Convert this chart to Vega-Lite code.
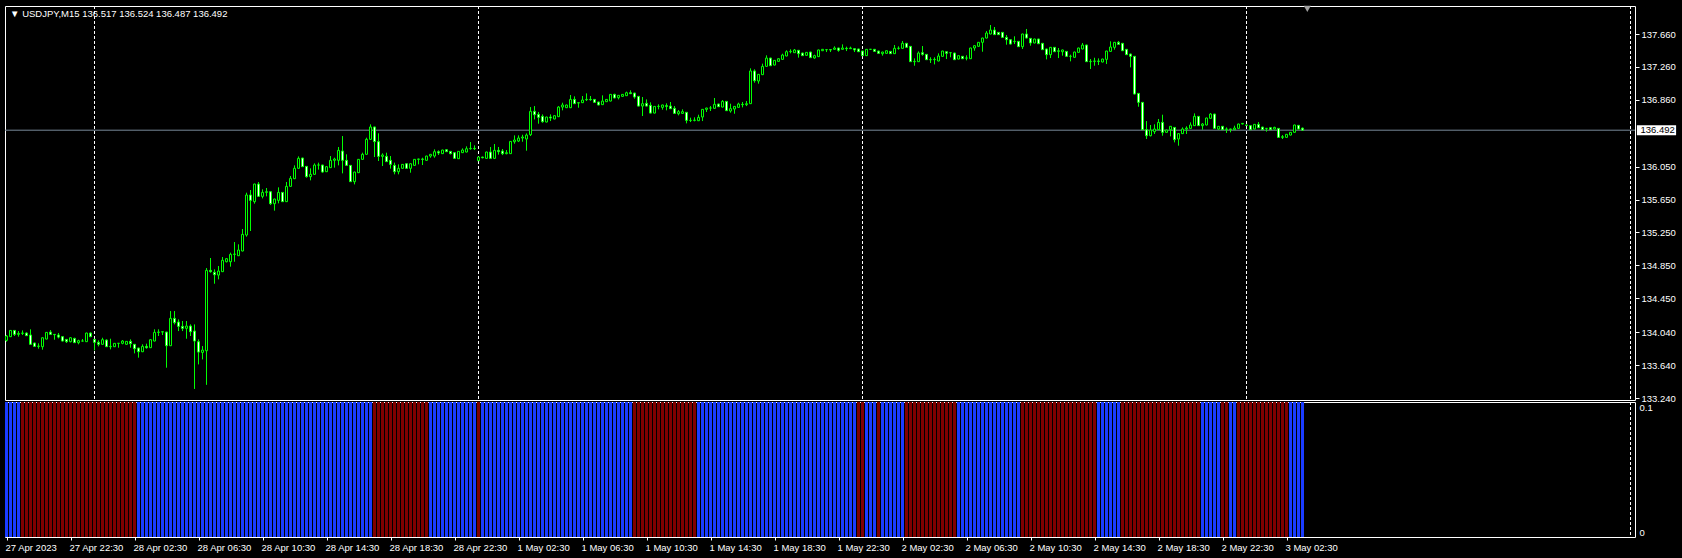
{
"$schema":"https://vega.github.io/schema/vega-lite/v6.json",
"background":"black",
"padding":{"left":4,"top":5,"right":7,"bottom":6},
"spacing":2,
"bounds":"flush",
"resolve":{"scale":{"x":"independent","y":"independent"}},
"config":{"view":{"stroke":"white","strokeWidth":1,"fill":"black"},"scale":{"continuousPadding":0},"axis":{"labelFont":"Liberation Sans","labelFontSize":9.5,"labelColor":"white","tickColor":"white","domain":false,"grid":false,"labelOverlap":false,"labelBound":false}},
"datasets":{
"grid":[{"i":22},{"i":118},{"i":214},{"i":310},{"i":406}],
"last":[{"i":324,"p":136.492}],
"bars":[
{"i":0,"o":133.940,"h":134.005,"l":133.924,"c":133.993,"s":"up","v":0.1},
{"i":1,"o":133.985,"h":134.065,"l":133.980,"c":134.061,"s":"up","v":0.1},
{"i":2,"o":134.061,"h":134.065,"l":133.993,"c":134.013,"s":"up","v":0.1},
{"i":3,"o":134.013,"h":134.053,"l":133.985,"c":134.025,"s":"up","v":0.1},
{"i":4,"o":134.025,"h":134.061,"l":134.005,"c":134.029,"s":"dn","v":0.1},
{"i":5,"o":134.029,"h":134.037,"l":133.993,"c":133.997,"s":"dn","v":0.1},
{"i":6,"o":134.005,"h":134.074,"l":133.888,"c":133.892,"s":"dn","v":0.1},
{"i":7,"o":133.908,"h":133.912,"l":133.863,"c":133.867,"s":"dn","v":0.1},
{"i":8,"o":133.867,"h":133.904,"l":133.839,"c":133.871,"s":"dn","v":0.1},
{"i":9,"o":133.863,"h":133.976,"l":133.827,"c":133.972,"s":"dn","v":0.1},
{"i":10,"o":133.956,"h":134.041,"l":133.952,"c":134.037,"s":"dn","v":0.1},
{"i":11,"o":134.041,"h":134.065,"l":134.009,"c":134.013,"s":"dn","v":0.1},
{"i":12,"o":134.013,"h":134.017,"l":133.948,"c":134.009,"s":"dn","v":0.1},
{"i":13,"o":134.005,"h":134.029,"l":133.964,"c":133.980,"s":"dn","v":0.1},
{"i":14,"o":133.985,"h":133.989,"l":133.928,"c":133.932,"s":"dn","v":0.1},
{"i":15,"o":133.952,"h":133.956,"l":133.908,"c":133.924,"s":"dn","v":0.1},
{"i":16,"o":133.924,"h":133.980,"l":133.916,"c":133.972,"s":"dn","v":0.1},
{"i":17,"o":133.964,"h":133.972,"l":133.908,"c":133.912,"s":"dn","v":0.1},
{"i":18,"o":133.912,"h":133.948,"l":133.892,"c":133.936,"s":"dn","v":0.1},
{"i":19,"o":133.932,"h":133.956,"l":133.928,"c":133.932,"s":"dn","v":0.1},
{"i":20,"o":133.924,"h":134.033,"l":133.920,"c":134.029,"s":"dn","v":0.1},
{"i":21,"o":134.029,"h":134.037,"l":133.980,"c":133.985,"s":"dn","v":0.1},
{"i":22,"o":133.952,"h":133.956,"l":133.819,"c":133.916,"s":"dn","v":0.1},
{"i":23,"o":133.916,"h":133.940,"l":133.867,"c":133.892,"s":"dn","v":0.1},
{"i":24,"o":133.892,"h":133.972,"l":133.888,"c":133.948,"s":"dn","v":0.1},
{"i":25,"o":133.944,"h":133.952,"l":133.859,"c":133.863,"s":"dn","v":0.1},
{"i":26,"o":133.863,"h":133.960,"l":133.831,"c":133.867,"s":"dn","v":0.1},
{"i":27,"o":133.863,"h":133.908,"l":133.859,"c":133.904,"s":"dn","v":0.1},
{"i":28,"o":133.904,"h":133.908,"l":133.851,"c":133.904,"s":"dn","v":0.1},
{"i":29,"o":133.904,"h":133.944,"l":133.892,"c":133.932,"s":"dn","v":0.1},
{"i":30,"o":133.892,"h":133.932,"l":133.888,"c":133.928,"s":"dn","v":0.1},
{"i":31,"o":133.928,"h":133.952,"l":133.851,"c":133.900,"s":"dn","v":0.1},
{"i":32,"o":133.892,"h":133.896,"l":133.782,"c":133.839,"s":"dn","v":0.1},
{"i":33,"o":133.847,"h":133.851,"l":133.730,"c":133.802,"s":"up","v":0.1},
{"i":34,"o":133.802,"h":133.892,"l":133.798,"c":133.867,"s":"up","v":0.1},
{"i":35,"o":133.867,"h":133.900,"l":133.839,"c":133.851,"s":"up","v":0.1},
{"i":36,"o":133.851,"h":133.952,"l":133.847,"c":133.948,"s":"up","v":0.1},
{"i":37,"o":133.932,"h":134.074,"l":133.928,"c":134.037,"s":"up","v":0.1},
{"i":38,"o":134.037,"h":134.074,"l":133.993,"c":134.041,"s":"up","v":0.1},
{"i":39,"o":134.041,"h":134.049,"l":134.005,"c":134.045,"s":"up","v":0.1},
{"i":40,"o":134.041,"h":134.045,"l":133.608,"c":133.875,"s":"up","v":0.1},
{"i":41,"o":133.875,"h":134.296,"l":133.871,"c":134.207,"s":"up","v":0.1},
{"i":42,"o":134.207,"h":134.296,"l":134.134,"c":134.155,"s":"up","v":0.1},
{"i":43,"o":134.163,"h":134.195,"l":134.053,"c":134.110,"s":"up","v":0.1},
{"i":44,"o":134.110,"h":134.175,"l":134.053,"c":134.086,"s":"up","v":0.1},
{"i":45,"o":134.086,"h":134.175,"l":133.960,"c":134.114,"s":"up","v":0.1},
{"i":46,"o":134.114,"h":134.134,"l":133.993,"c":134.045,"s":"up","v":0.1},
{"i":47,"o":134.053,"h":134.134,"l":133.350,"c":133.932,"s":"up","v":0.1},
{"i":48,"o":133.924,"h":133.952,"l":133.648,"c":133.798,"s":"up","v":0.1},
{"i":49,"o":133.794,"h":133.871,"l":133.709,"c":133.822,"s":"up","v":0.1},
{"i":50,"o":133.814,"h":134.818,"l":133.400,"c":134.790,"s":"up","v":0.1},
{"i":51,"o":134.790,"h":134.940,"l":134.762,"c":134.774,"s":"up","v":0.1},
{"i":52,"o":134.766,"h":134.802,"l":134.628,"c":134.737,"s":"up","v":0.1},
{"i":53,"o":134.733,"h":134.843,"l":134.681,"c":134.782,"s":"up","v":0.1},
{"i":54,"o":134.774,"h":134.952,"l":134.770,"c":134.912,"s":"up","v":0.1},
{"i":55,"o":134.895,"h":134.940,"l":134.887,"c":134.932,"s":"up","v":0.1},
{"i":56,"o":134.895,"h":135.005,"l":134.835,"c":134.984,"s":"up","v":0.1},
{"i":57,"o":134.984,"h":135.134,"l":134.895,"c":134.988,"s":"up","v":0.1},
{"i":58,"o":134.968,"h":135.106,"l":134.964,"c":135.037,"s":"up","v":0.1},
{"i":59,"o":135.025,"h":135.292,"l":135.021,"c":135.227,"s":"up","v":0.1},
{"i":60,"o":135.219,"h":135.733,"l":135.199,"c":135.705,"s":"up","v":0.1},
{"i":61,"o":135.705,"h":135.766,"l":135.268,"c":135.640,"s":"up","v":0.1},
{"i":62,"o":135.624,"h":135.842,"l":135.600,"c":135.838,"s":"up","v":0.1},
{"i":63,"o":135.838,"h":135.863,"l":135.685,"c":135.689,"s":"up","v":0.1},
{"i":64,"o":135.689,"h":135.774,"l":135.664,"c":135.737,"s":"up","v":0.1},
{"i":65,"o":135.737,"h":135.790,"l":135.689,"c":135.745,"s":"up","v":0.1},
{"i":66,"o":135.745,"h":135.749,"l":135.583,"c":135.600,"s":"up","v":0.1},
{"i":67,"o":135.600,"h":135.660,"l":135.515,"c":135.656,"s":"up","v":0.1},
{"i":68,"o":135.640,"h":135.798,"l":135.604,"c":135.737,"s":"up","v":0.1},
{"i":69,"o":135.737,"h":135.741,"l":135.620,"c":135.624,"s":"up","v":0.1},
{"i":70,"o":135.624,"h":135.863,"l":135.620,"c":135.810,"s":"up","v":0.1},
{"i":71,"o":135.810,"h":135.936,"l":135.806,"c":135.907,"s":"up","v":0.1},
{"i":72,"o":135.903,"h":136.065,"l":135.899,"c":136.029,"s":"up","v":0.1},
{"i":73,"o":136.029,"h":136.174,"l":136.025,"c":136.150,"s":"up","v":0.1},
{"i":74,"o":136.154,"h":136.158,"l":136.045,"c":136.049,"s":"up","v":0.1},
{"i":75,"o":136.053,"h":136.057,"l":135.915,"c":135.928,"s":"up","v":0.1},
{"i":76,"o":135.928,"h":136.029,"l":135.883,"c":135.956,"s":"up","v":0.1},
{"i":77,"o":135.956,"h":136.089,"l":135.952,"c":136.069,"s":"up","v":0.1},
{"i":78,"o":136.069,"h":136.098,"l":136.013,"c":136.069,"s":"up","v":0.1},
{"i":79,"o":136.069,"h":136.073,"l":135.976,"c":135.984,"s":"up","v":0.1},
{"i":80,"o":135.988,"h":136.053,"l":135.984,"c":136.049,"s":"up","v":0.1},
{"i":81,"o":136.037,"h":136.178,"l":136.033,"c":136.126,"s":"up","v":0.1},
{"i":82,"o":136.126,"h":136.158,"l":136.037,"c":136.142,"s":"up","v":0.1},
{"i":83,"o":136.126,"h":136.288,"l":136.065,"c":136.247,"s":"up","v":0.1},
{"i":84,"o":136.239,"h":136.421,"l":135.968,"c":136.126,"s":"up","v":0.1},
{"i":85,"o":136.126,"h":136.199,"l":136.057,"c":136.065,"s":"up","v":0.1},
{"i":86,"o":136.065,"h":136.069,"l":135.863,"c":135.867,"s":"up","v":0.1},
{"i":87,"o":135.867,"h":135.988,"l":135.834,"c":135.984,"s":"up","v":0.1},
{"i":88,"o":135.976,"h":136.142,"l":135.972,"c":136.138,"s":"up","v":0.1},
{"i":89,"o":136.138,"h":136.219,"l":136.134,"c":136.199,"s":"up","v":0.1},
{"i":90,"o":136.199,"h":136.401,"l":136.195,"c":136.381,"s":"up","v":0.1},
{"i":91,"o":136.381,"h":136.563,"l":136.377,"c":136.531,"s":"up","v":0.1},
{"i":92,"o":136.531,"h":136.535,"l":136.166,"c":136.353,"s":"dn","v":0.1},
{"i":93,"o":136.353,"h":136.454,"l":136.118,"c":136.174,"s":"dn","v":0.1},
{"i":94,"o":136.174,"h":136.211,"l":136.057,"c":136.191,"s":"dn","v":0.1},
{"i":95,"o":136.174,"h":136.219,"l":136.106,"c":136.110,"s":"dn","v":0.1},
{"i":96,"o":136.126,"h":136.178,"l":136.025,"c":136.077,"s":"dn","v":0.1},
{"i":97,"o":136.065,"h":136.098,"l":135.956,"c":135.988,"s":"dn","v":0.1},
{"i":98,"o":135.988,"h":136.077,"l":135.956,"c":136.029,"s":"dn","v":0.1},
{"i":99,"o":136.029,"h":136.081,"l":136.025,"c":136.077,"s":"dn","v":0.1},
{"i":100,"o":136.085,"h":136.089,"l":136.025,"c":136.029,"s":"dn","v":0.1},
{"i":101,"o":136.029,"h":136.089,"l":135.976,"c":136.085,"s":"dn","v":0.1},
{"i":102,"o":136.065,"h":136.142,"l":136.061,"c":136.138,"s":"dn","v":0.1},
{"i":103,"o":136.138,"h":136.146,"l":136.077,"c":136.142,"s":"dn","v":0.1},
{"i":104,"o":136.142,"h":136.158,"l":136.069,"c":136.138,"s":"dn","v":0.1},
{"i":105,"o":136.126,"h":136.182,"l":136.122,"c":136.178,"s":"dn","v":0.1},
{"i":106,"o":136.178,"h":136.203,"l":136.158,"c":136.199,"s":"up","v":0.1},
{"i":107,"o":136.178,"h":136.259,"l":136.158,"c":136.231,"s":"up","v":0.1},
{"i":108,"o":136.231,"h":136.247,"l":136.191,"c":136.215,"s":"up","v":0.1},
{"i":109,"o":136.207,"h":136.255,"l":136.203,"c":136.251,"s":"up","v":0.1},
{"i":110,"o":136.255,"h":136.259,"l":136.227,"c":136.231,"s":"up","v":0.1},
{"i":111,"o":136.235,"h":136.239,"l":136.199,"c":136.207,"s":"up","v":0.1},
{"i":112,"o":136.219,"h":136.223,"l":136.146,"c":136.150,"s":"up","v":0.1},
{"i":113,"o":136.146,"h":136.239,"l":136.142,"c":136.235,"s":"up","v":0.1},
{"i":114,"o":136.219,"h":136.271,"l":136.215,"c":136.251,"s":"up","v":0.1},
{"i":115,"o":136.227,"h":136.296,"l":136.223,"c":136.267,"s":"up","v":0.1},
{"i":116,"o":136.267,"h":136.348,"l":136.255,"c":136.271,"s":"up","v":0.1},
{"i":117,"o":136.271,"h":136.308,"l":136.251,"c":136.267,"s":"up","v":0.1},
{"i":118,"o":136.122,"h":136.170,"l":136.118,"c":136.166,"s":"dn","v":0.1},
{"i":119,"o":136.166,"h":136.170,"l":136.150,"c":136.158,"s":"up","v":0.1},
{"i":120,"o":136.150,"h":136.231,"l":136.146,"c":136.227,"s":"up","v":0.1},
{"i":121,"o":136.227,"h":136.288,"l":136.146,"c":136.150,"s":"up","v":0.1},
{"i":122,"o":136.150,"h":136.324,"l":136.146,"c":136.247,"s":"up","v":0.1},
{"i":123,"o":136.247,"h":136.288,"l":136.195,"c":136.231,"s":"up","v":0.1},
{"i":124,"o":136.239,"h":136.263,"l":136.190,"c":136.207,"s":"up","v":0.1},
{"i":125,"o":136.207,"h":136.251,"l":136.199,"c":136.219,"s":"up","v":0.1},
{"i":126,"o":136.207,"h":136.360,"l":136.203,"c":136.356,"s":"up","v":0.1},
{"i":127,"o":136.352,"h":136.429,"l":136.328,"c":136.373,"s":"up","v":0.1},
{"i":128,"o":136.360,"h":136.429,"l":136.348,"c":136.397,"s":"up","v":0.1},
{"i":129,"o":136.397,"h":136.437,"l":136.352,"c":136.409,"s":"up","v":0.1},
{"i":130,"o":136.385,"h":136.453,"l":136.243,"c":136.433,"s":"up","v":0.1},
{"i":131,"o":136.437,"h":136.773,"l":136.421,"c":136.721,"s":"up","v":0.1},
{"i":132,"o":136.721,"h":136.785,"l":136.623,"c":136.680,"s":"up","v":0.1},
{"i":133,"o":136.684,"h":136.713,"l":136.571,"c":136.648,"s":"up","v":0.1},
{"i":134,"o":136.660,"h":136.684,"l":136.583,"c":136.595,"s":"up","v":0.1},
{"i":135,"o":136.591,"h":136.656,"l":136.587,"c":136.652,"s":"up","v":0.1},
{"i":136,"o":136.652,"h":136.684,"l":136.603,"c":136.640,"s":"up","v":0.1},
{"i":137,"o":136.628,"h":136.672,"l":136.624,"c":136.668,"s":"up","v":0.1},
{"i":138,"o":136.656,"h":136.785,"l":136.652,"c":136.773,"s":"up","v":0.1},
{"i":139,"o":136.773,"h":136.826,"l":136.733,"c":136.798,"s":"up","v":0.1},
{"i":140,"o":136.765,"h":136.802,"l":136.761,"c":136.798,"s":"up","v":0.1},
{"i":141,"o":136.765,"h":136.919,"l":136.761,"c":136.866,"s":"up","v":0.1},
{"i":142,"o":136.866,"h":136.903,"l":136.810,"c":136.814,"s":"up","v":0.1},
{"i":143,"o":136.822,"h":136.830,"l":136.765,"c":136.826,"s":"up","v":0.1},
{"i":144,"o":136.826,"h":136.907,"l":136.822,"c":136.858,"s":"up","v":0.1},
{"i":145,"o":136.862,"h":136.939,"l":136.846,"c":136.866,"s":"up","v":0.1},
{"i":146,"o":136.866,"h":136.907,"l":136.850,"c":136.862,"s":"up","v":0.1},
{"i":147,"o":136.866,"h":136.870,"l":136.826,"c":136.830,"s":"up","v":0.1},
{"i":148,"o":136.834,"h":136.838,"l":136.794,"c":136.798,"s":"up","v":0.1},
{"i":149,"o":136.802,"h":136.915,"l":136.798,"c":136.846,"s":"up","v":0.1},
{"i":150,"o":136.838,"h":136.870,"l":136.834,"c":136.866,"s":"up","v":0.1},
{"i":151,"o":136.846,"h":136.931,"l":136.842,"c":136.927,"s":"up","v":0.1},
{"i":152,"o":136.927,"h":136.935,"l":136.879,"c":136.883,"s":"up","v":0.1},
{"i":153,"o":136.887,"h":136.919,"l":136.866,"c":136.915,"s":"up","v":0.1},
{"i":154,"o":136.903,"h":136.931,"l":136.899,"c":136.927,"s":"up","v":0.1},
{"i":155,"o":136.911,"h":136.960,"l":136.907,"c":136.947,"s":"up","v":0.1},
{"i":156,"o":136.947,"h":136.976,"l":136.931,"c":136.935,"s":"up","v":0.1},
{"i":157,"o":136.943,"h":136.947,"l":136.875,"c":136.895,"s":"dn","v":0.1},
{"i":158,"o":136.903,"h":136.907,"l":136.781,"c":136.785,"s":"dn","v":0.1},
{"i":159,"o":136.785,"h":136.895,"l":136.664,"c":136.814,"s":"dn","v":0.1},
{"i":160,"o":136.818,"h":136.866,"l":136.781,"c":136.785,"s":"dn","v":0.1},
{"i":161,"o":136.794,"h":136.830,"l":136.696,"c":136.700,"s":"dn","v":0.1},
{"i":162,"o":136.700,"h":136.785,"l":136.696,"c":136.781,"s":"dn","v":0.1},
{"i":163,"o":136.781,"h":136.806,"l":136.745,"c":136.781,"s":"dn","v":0.1},
{"i":164,"o":136.769,"h":136.802,"l":136.741,"c":136.798,"s":"dn","v":0.1},
{"i":165,"o":136.790,"h":136.818,"l":136.733,"c":136.781,"s":"dn","v":0.1},
{"i":166,"o":136.785,"h":136.834,"l":136.749,"c":136.753,"s":"dn","v":0.1},
{"i":167,"o":136.757,"h":136.785,"l":136.692,"c":136.696,"s":"dn","v":0.1},
{"i":168,"o":136.692,"h":136.737,"l":136.672,"c":136.717,"s":"dn","v":0.1},
{"i":169,"o":136.696,"h":136.745,"l":136.692,"c":136.717,"s":"dn","v":0.1},
{"i":170,"o":136.709,"h":136.713,"l":136.575,"c":136.611,"s":"dn","v":0.1},
{"i":171,"o":136.611,"h":136.644,"l":136.591,"c":136.611,"s":"dn","v":0.1},
{"i":172,"o":136.611,"h":136.648,"l":136.599,"c":136.615,"s":"dn","v":0.1},
{"i":173,"o":136.607,"h":136.680,"l":136.603,"c":136.648,"s":"up","v":0.1},
{"i":174,"o":136.652,"h":136.749,"l":136.603,"c":136.745,"s":"up","v":0.1},
{"i":175,"o":136.745,"h":136.765,"l":136.713,"c":136.761,"s":"up","v":0.1},
{"i":176,"o":136.761,"h":136.785,"l":136.725,"c":136.761,"s":"up","v":0.1},
{"i":177,"o":136.757,"h":136.883,"l":136.753,"c":136.806,"s":"up","v":0.1},
{"i":178,"o":136.810,"h":136.814,"l":136.773,"c":136.777,"s":"up","v":0.1},
{"i":179,"o":136.773,"h":136.858,"l":136.769,"c":136.842,"s":"up","v":0.1},
{"i":180,"o":136.842,"h":136.846,"l":136.725,"c":136.729,"s":"up","v":0.1},
{"i":181,"o":136.725,"h":136.814,"l":136.705,"c":136.753,"s":"up","v":0.1},
{"i":182,"o":136.749,"h":136.785,"l":136.692,"c":136.781,"s":"up","v":0.1},
{"i":183,"o":136.769,"h":136.826,"l":136.765,"c":136.810,"s":"up","v":0.1},
{"i":184,"o":136.806,"h":136.834,"l":136.769,"c":136.802,"s":"up","v":0.1},
{"i":185,"o":136.802,"h":136.846,"l":136.785,"c":136.814,"s":"up","v":0.1},
{"i":186,"o":136.814,"h":137.243,"l":136.810,"c":137.211,"s":"up","v":0.1},
{"i":187,"o":137.211,"h":137.231,"l":137.069,"c":137.093,"s":"up","v":0.1},
{"i":188,"o":137.089,"h":137.174,"l":137.057,"c":137.170,"s":"up","v":0.1},
{"i":189,"o":137.166,"h":137.300,"l":137.162,"c":137.267,"s":"up","v":0.1},
{"i":190,"o":137.267,"h":137.401,"l":137.263,"c":137.368,"s":"up","v":0.1},
{"i":191,"o":137.368,"h":137.372,"l":137.271,"c":137.275,"s":"up","v":0.1},
{"i":192,"o":137.283,"h":137.344,"l":137.279,"c":137.340,"s":"up","v":0.1},
{"i":193,"o":137.328,"h":137.364,"l":137.324,"c":137.360,"s":"up","v":0.1},
{"i":194,"o":137.352,"h":137.421,"l":137.348,"c":137.405,"s":"up","v":0.1},
{"i":195,"o":137.393,"h":137.462,"l":137.389,"c":137.445,"s":"up","v":0.1},
{"i":196,"o":137.445,"h":137.474,"l":137.425,"c":137.449,"s":"up","v":0.1},
{"i":197,"o":137.433,"h":137.478,"l":137.429,"c":137.466,"s":"up","v":0.1},
{"i":198,"o":137.462,"h":137.466,"l":137.373,"c":137.421,"s":"up","v":0.1},
{"i":199,"o":137.429,"h":137.433,"l":137.393,"c":137.397,"s":"up","v":0.1},
{"i":200,"o":137.401,"h":137.441,"l":137.397,"c":137.437,"s":"up","v":0.1},
{"i":201,"o":137.441,"h":137.445,"l":137.369,"c":137.373,"s":"up","v":0.1},
{"i":202,"o":137.369,"h":137.409,"l":137.360,"c":137.397,"s":"up","v":0.1},
{"i":203,"o":137.385,"h":137.470,"l":137.381,"c":137.466,"s":"up","v":0.1},
{"i":204,"o":137.457,"h":137.478,"l":137.453,"c":137.474,"s":"up","v":0.1},
{"i":205,"o":137.470,"h":137.474,"l":137.441,"c":137.470,"s":"up","v":0.1},
{"i":206,"o":137.470,"h":137.474,"l":137.441,"c":137.466,"s":"up","v":0.1},
{"i":207,"o":137.474,"h":137.510,"l":137.470,"c":137.490,"s":"up","v":0.1},
{"i":208,"o":137.490,"h":137.494,"l":137.445,"c":137.462,"s":"up","v":0.1},
{"i":209,"o":137.474,"h":137.534,"l":137.470,"c":137.490,"s":"up","v":0.1},
{"i":210,"o":137.486,"h":137.506,"l":137.453,"c":137.482,"s":"up","v":0.1},
{"i":211,"o":137.482,"h":137.506,"l":137.478,"c":137.490,"s":"up","v":0.1},
{"i":212,"o":137.482,"h":137.486,"l":137.441,"c":137.466,"s":"up","v":0.1},
{"i":213,"o":137.478,"h":137.482,"l":137.441,"c":137.445,"s":"dn","v":0.1},
{"i":214,"o":137.453,"h":137.457,"l":137.393,"c":137.397,"s":"dn","v":0.1},
{"i":215,"o":137.397,"h":137.478,"l":137.393,"c":137.474,"s":"up","v":0.1},
{"i":216,"o":137.474,"h":137.478,"l":137.466,"c":137.474,"s":"up","v":0.1},
{"i":217,"o":137.474,"h":137.478,"l":137.445,"c":137.449,"s":"up","v":0.1},
{"i":218,"o":137.453,"h":137.457,"l":137.421,"c":137.425,"s":"dn","v":0.1},
{"i":219,"o":137.421,"h":137.445,"l":137.397,"c":137.441,"s":"up","v":0.1},
{"i":220,"o":137.425,"h":137.461,"l":137.421,"c":137.457,"s":"up","v":0.1},
{"i":221,"o":137.449,"h":137.453,"l":137.417,"c":137.421,"s":"up","v":0.1},
{"i":222,"o":137.421,"h":137.526,"l":137.417,"c":137.486,"s":"up","v":0.1},
{"i":223,"o":137.486,"h":137.510,"l":137.470,"c":137.486,"s":"up","v":0.1},
{"i":224,"o":137.486,"h":137.575,"l":137.482,"c":137.547,"s":"up","v":0.1},
{"i":225,"o":137.547,"h":137.551,"l":137.494,"c":137.498,"s":"dn","v":0.1},
{"i":226,"o":137.510,"h":137.514,"l":137.320,"c":137.324,"s":"dn","v":0.1},
{"i":227,"o":137.324,"h":137.364,"l":137.275,"c":137.328,"s":"dn","v":0.1},
{"i":228,"o":137.324,"h":137.449,"l":137.320,"c":137.429,"s":"dn","v":0.1},
{"i":229,"o":137.433,"h":137.514,"l":137.397,"c":137.413,"s":"dn","v":0.1},
{"i":230,"o":137.413,"h":137.417,"l":137.344,"c":137.348,"s":"dn","v":0.1},
{"i":231,"o":137.348,"h":137.377,"l":137.308,"c":137.348,"s":"dn","v":0.1},
{"i":232,"o":137.348,"h":137.377,"l":137.291,"c":137.352,"s":"dn","v":0.1},
{"i":233,"o":137.332,"h":137.425,"l":137.328,"c":137.393,"s":"dn","v":0.1},
{"i":234,"o":137.389,"h":137.457,"l":137.385,"c":137.453,"s":"dn","v":0.1},
{"i":235,"o":137.445,"h":137.449,"l":137.356,"c":137.425,"s":"dn","v":0.1},
{"i":236,"o":137.433,"h":137.437,"l":137.377,"c":137.433,"s":"dn","v":0.1},
{"i":237,"o":137.429,"h":137.433,"l":137.344,"c":137.348,"s":"dn","v":0.1},
{"i":238,"o":137.356,"h":137.401,"l":137.352,"c":137.397,"s":"up","v":0.1},
{"i":239,"o":137.389,"h":137.393,"l":137.356,"c":137.360,"s":"up","v":0.1},
{"i":240,"o":137.368,"h":137.401,"l":137.340,"c":137.368,"s":"up","v":0.1},
{"i":241,"o":137.360,"h":137.494,"l":137.356,"c":137.490,"s":"up","v":0.1},
{"i":242,"o":137.490,"h":137.522,"l":137.457,"c":137.518,"s":"up","v":0.1},
{"i":243,"o":137.510,"h":137.563,"l":137.506,"c":137.559,"s":"up","v":0.1},
{"i":244,"o":137.559,"h":137.615,"l":137.445,"c":137.611,"s":"up","v":0.1},
{"i":245,"o":137.611,"h":137.696,"l":137.607,"c":137.672,"s":"up","v":0.1},
{"i":246,"o":137.660,"h":137.769,"l":137.656,"c":137.708,"s":"up","v":0.1},
{"i":247,"o":137.708,"h":137.745,"l":137.648,"c":137.652,"s":"up","v":0.1},
{"i":248,"o":137.680,"h":137.684,"l":137.648,"c":137.652,"s":"up","v":0.1},
{"i":249,"o":137.680,"h":137.684,"l":137.615,"c":137.619,"s":"up","v":0.1},
{"i":250,"o":137.619,"h":137.648,"l":137.530,"c":137.591,"s":"up","v":0.1},
{"i":251,"o":137.591,"h":137.595,"l":137.534,"c":137.538,"s":"up","v":0.1},
{"i":252,"o":137.567,"h":137.632,"l":137.538,"c":137.571,"s":"up","v":0.1},
{"i":253,"o":137.571,"h":137.575,"l":137.502,"c":137.506,"s":"up","v":0.1},
{"i":254,"o":137.506,"h":137.664,"l":137.478,"c":137.660,"s":"dn","v":0.1},
{"i":255,"o":137.660,"h":137.721,"l":137.607,"c":137.611,"s":"dn","v":0.1},
{"i":256,"o":137.607,"h":137.611,"l":137.518,"c":137.551,"s":"dn","v":0.1},
{"i":257,"o":137.551,"h":137.603,"l":137.547,"c":137.599,"s":"dn","v":0.1},
{"i":258,"o":137.599,"h":137.603,"l":137.538,"c":137.542,"s":"dn","v":0.1},
{"i":259,"o":137.547,"h":137.551,"l":137.466,"c":137.470,"s":"dn","v":0.1},
{"i":260,"o":137.478,"h":137.482,"l":137.352,"c":137.409,"s":"dn","v":0.1},
{"i":261,"o":137.409,"h":137.502,"l":137.368,"c":137.498,"s":"dn","v":0.1},
{"i":262,"o":137.498,"h":137.502,"l":137.441,"c":137.445,"s":"dn","v":0.1},
{"i":263,"o":137.449,"h":137.490,"l":137.368,"c":137.457,"s":"dn","v":0.1},
{"i":264,"o":137.445,"h":137.470,"l":137.397,"c":137.466,"s":"dn","v":0.1},
{"i":265,"o":137.449,"h":137.453,"l":137.385,"c":137.389,"s":"dn","v":0.1},
{"i":266,"o":137.389,"h":137.409,"l":137.328,"c":137.389,"s":"dn","v":0.1},
{"i":267,"o":137.377,"h":137.445,"l":137.373,"c":137.441,"s":"dn","v":0.1},
{"i":268,"o":137.437,"h":137.494,"l":137.433,"c":137.490,"s":"dn","v":0.1},
{"i":269,"o":137.478,"h":137.551,"l":137.474,"c":137.526,"s":"dn","v":0.1},
{"i":270,"o":137.526,"h":137.530,"l":137.320,"c":137.324,"s":"dn","v":0.1},
{"i":271,"o":137.324,"h":137.356,"l":137.235,"c":137.328,"s":"dn","v":0.1},
{"i":272,"o":137.328,"h":137.372,"l":137.275,"c":137.332,"s":"dn","v":0.1},
{"i":273,"o":137.332,"h":137.364,"l":137.283,"c":137.328,"s":"up","v":0.1},
{"i":274,"o":137.320,"h":137.360,"l":137.316,"c":137.356,"s":"up","v":0.1},
{"i":275,"o":137.352,"h":137.457,"l":137.295,"c":137.453,"s":"up","v":0.1},
{"i":276,"o":137.449,"h":137.571,"l":137.445,"c":137.502,"s":"up","v":0.1},
{"i":277,"o":137.498,"h":137.563,"l":137.470,"c":137.559,"s":"up","v":0.1},
{"i":278,"o":137.559,"h":137.575,"l":137.530,"c":137.534,"s":"up","v":0.1},
{"i":279,"o":137.547,"h":137.551,"l":137.453,"c":137.457,"s":"dn","v":0.1},
{"i":280,"o":137.474,"h":137.478,"l":137.405,"c":137.409,"s":"dn","v":0.1},
{"i":281,"o":137.417,"h":137.421,"l":137.255,"c":137.389,"s":"dn","v":0.1},
{"i":282,"o":137.389,"h":137.393,"l":136.927,"c":136.931,"s":"dn","v":0.1},
{"i":283,"o":136.939,"h":136.943,"l":136.777,"c":136.830,"s":"dn","v":0.1},
{"i":284,"o":136.830,"h":136.834,"l":136.494,"c":136.498,"s":"dn","v":0.1},
{"i":285,"o":136.498,"h":136.603,"l":136.385,"c":136.425,"s":"dn","v":0.1},
{"i":286,"o":136.425,"h":136.555,"l":136.417,"c":136.494,"s":"dn","v":0.1},
{"i":287,"o":136.474,"h":136.563,"l":136.446,"c":136.506,"s":"dn","v":0.1},
{"i":288,"o":136.498,"h":136.628,"l":136.494,"c":136.587,"s":"dn","v":0.1},
{"i":289,"o":136.587,"h":136.680,"l":136.425,"c":136.466,"s":"dn","v":0.1},
{"i":290,"o":136.466,"h":136.498,"l":136.462,"c":136.494,"s":"dn","v":0.1},
{"i":291,"o":136.498,"h":136.543,"l":136.417,"c":136.539,"s":"dn","v":0.1},
{"i":292,"o":136.526,"h":136.530,"l":136.344,"c":136.377,"s":"dn","v":0.1},
{"i":293,"o":136.385,"h":136.454,"l":136.304,"c":136.450,"s":"dn","v":0.1},
{"i":294,"o":136.450,"h":136.526,"l":136.446,"c":136.506,"s":"dn","v":0.1},
{"i":295,"o":136.506,"h":136.539,"l":136.446,"c":136.518,"s":"dn","v":0.1},
{"i":296,"o":136.514,"h":136.587,"l":136.510,"c":136.555,"s":"dn","v":0.1},
{"i":297,"o":136.547,"h":136.696,"l":136.543,"c":136.660,"s":"dn","v":0.1},
{"i":298,"o":136.660,"h":136.664,"l":136.543,"c":136.547,"s":"dn","v":0.1},
{"i":299,"o":136.547,"h":136.579,"l":136.498,"c":136.567,"s":"up","v":0.1},
{"i":300,"o":136.555,"h":136.644,"l":136.551,"c":136.640,"s":"up","v":0.1},
{"i":301,"o":136.636,"h":136.700,"l":136.632,"c":136.688,"s":"up","v":0.1},
{"i":302,"o":136.688,"h":136.692,"l":136.510,"c":136.514,"s":"up","v":0.1},
{"i":303,"o":136.506,"h":136.543,"l":136.494,"c":136.539,"s":"up","v":0.1},
{"i":304,"o":136.539,"h":136.543,"l":136.494,"c":136.498,"s":"dn","v":0.1},
{"i":305,"o":136.502,"h":136.526,"l":136.458,"c":136.506,"s":"dn","v":0.1},
{"i":306,"o":136.506,"h":136.510,"l":136.466,"c":136.502,"s":"up","v":0.1},
{"i":307,"o":136.498,"h":136.547,"l":136.494,"c":136.518,"s":"up","v":0.1},
{"i":308,"o":136.514,"h":136.571,"l":136.510,"c":136.567,"s":"dn","v":0.1},
{"i":309,"o":136.567,"h":136.579,"l":136.563,"c":136.575,"s":"dn","v":0.1},
{"i":310,"o":136.555,"h":136.559,"l":136.547,"c":136.551,"s":"dn","v":0.1},
{"i":311,"o":136.547,"h":136.551,"l":136.494,"c":136.498,"s":"dn","v":0.1},
{"i":312,"o":136.506,"h":136.567,"l":136.502,"c":136.563,"s":"dn","v":0.1},
{"i":313,"o":136.563,"h":136.591,"l":136.518,"c":136.522,"s":"dn","v":0.1},
{"i":314,"o":136.530,"h":136.534,"l":136.494,"c":136.498,"s":"dn","v":0.1},
{"i":315,"o":136.514,"h":136.518,"l":136.474,"c":136.514,"s":"dn","v":0.1},
{"i":316,"o":136.522,"h":136.526,"l":136.494,"c":136.498,"s":"dn","v":0.1},
{"i":317,"o":136.506,"h":136.534,"l":136.502,"c":136.526,"s":"dn","v":0.1},
{"i":318,"o":136.514,"h":136.518,"l":136.401,"c":136.405,"s":"dn","v":0.1},
{"i":319,"o":136.405,"h":136.433,"l":136.385,"c":136.413,"s":"dn","v":0.1},
{"i":320,"o":136.405,"h":136.446,"l":136.401,"c":136.442,"s":"dn","v":0.1},
{"i":321,"o":136.433,"h":136.470,"l":136.429,"c":136.466,"s":"up","v":0.1},
{"i":322,"o":136.466,"h":136.559,"l":136.462,"c":136.555,"s":"up","v":0.1},
{"i":323,"o":136.551,"h":136.555,"l":136.502,"c":136.506,"s":"up","v":0.1},
{"i":324,"o":136.517,"h":136.524,"l":136.487,"c":136.492,"s":"up","v":0.1}
]},
"vconcat":[
{
"width":1630,"height":394,
"resolve":{"axis":{"x":"independent","y":"independent"}},
"layer":[
{"data":{"name":"grid"},"mark":{"type":"rule","color":"white","strokeDash":[3,2]},
 "encoding":{"x":{"field":"i","type":"quantitative","scale":{"domain":[-0.375,407.125],"nice":false,"zero":false,"padding":0},"axis":null}}},
{"data":{"name":"last"},"mark":{"type":"rule","color":"#778899"},
 "encoding":{"y":{"field":"p","type":"quantitative","scale":{"domain":[133.216,138.0],"nice":false,"zero":false,"padding":0},"axis":null}}},
{"data":{"name":"bars"},"mark":{"type":"rule","color":"#00ff00"},
 "encoding":{"x":{"field":"i","type":"quantitative","scale":{"domain":[-0.375,407.125],"nice":false,"zero":false,"padding":0},"axis":null},
  "y":{"field":"l","type":"quantitative","scale":{"domain":[133.216,138.0],"nice":false,"zero":false,"padding":0},
   "axis":{"orient":"right","values":[133.24,133.64,134.04,134.45,134.85,135.25,135.65,136.05,136.86,137.26,137.66],"format":".3f","tickSize":4,"labelPadding":2,"title":null}},
  "y2":{"field":"h"}}},
{"data":{"name":"bars"},"mark":{"type":"bar","width":2,"stroke":"#00ff00","strokeWidth":1},
 "encoding":{"x":{"field":"i","type":"quantitative","scale":{"domain":[-0.375,407.125],"nice":false,"zero":false,"padding":0},"axis":null},
  "y":{"field":"o","type":"quantitative","scale":{"domain":[133.216,138.0],"nice":false,"zero":false,"padding":0},"axis":null},
  "y2":{"field":"c"},
  "fill":{"condition":{"test":"datum.c >= datum.o","value":"black"},"value":"white"}}},
{"data":{"name":"last"},"mark":{"type":"bar","height":10,"color":"white"},
 "encoding":{"x":{"datum":407.6,"type":"quantitative","scale":{"domain":[-0.375,407.125],"nice":false,"zero":false,"padding":0},"axis":null},"x2":{"datum":417.4},
  "y":{"field":"p","type":"quantitative","scale":{"domain":[133.216,138.0],"nice":false,"zero":false,"padding":0},"axis":null}}},
{"data":{"name":"last"},"mark":{"type":"text","align":"left","baseline":"middle","color":"black","font":"Liberation Sans","fontSize":9.5},
 "encoding":{"x":{"datum":408.5,"type":"quantitative","scale":{"domain":[-0.375,407.125],"nice":false,"zero":false,"padding":0},"axis":null},
  "y":{"field":"p","type":"quantitative","scale":{"domain":[133.216,138.0],"nice":false,"zero":false,"padding":0},"axis":null},
  "text":{"field":"p","type":"quantitative","format":".3f"}}},
{"data":{"values":[{}]},"mark":{"type":"text","align":"left","baseline":"middle","color":"white","font":"Liberation Sans","fontSize":9.5},
 "encoding":{"x":{"datum":0.9,"type":"quantitative","scale":{"domain":[-0.375,407.125],"nice":false,"zero":false,"padding":0},"axis":null},
  "y":{"datum":137.906,"type":"quantitative","scale":{"domain":[133.216,138.0],"nice":false,"zero":false,"padding":0},"axis":null},
  "text":{"value":"▼ USDJPY,M15  136.517 136.524 136.487 136.492"}}},
{"data":{"values":[{}]},"mark":{"type":"point","shape":"triangle-down","filled":true,"color":"#a0a0a0","size":50,"opacity":1},
 "encoding":{"x":{"datum":325.2,"type":"quantitative","scale":{"domain":[-0.375,407.125],"nice":false,"zero":false,"padding":0},"axis":null},
  "y":{"datum":137.965,"type":"quantitative","scale":{"domain":[133.216,138.0],"nice":false,"zero":false,"padding":0},"axis":null}}}
]
},
{
"width":1630,"height":135,
"encoding":{"x":{"field":"i","type":"quantitative","scale":{"domain":[-0.375,407.125],"nice":false,"zero":false,"padding":0},"title":null,
 "axis":{"values":[0,16,32,48,64,80,96,112,128,144,160,176,192,208,224,240,256,272,288,304,320],
  "labelExpr":"['27 Apr 2023','27 Apr 22:30','28 Apr 02:30','28 Apr 06:30','28 Apr 10:30','28 Apr 14:30','28 Apr 18:30','28 Apr 22:30','1 May 02:30','1 May 06:30','1 May 10:30','1 May 14:30','1 May 18:30','1 May 22:30','2 May 02:30','2 May 06:30','2 May 10:30','2 May 14:30','2 May 18:30','2 May 22:30','3 May 02:30'][round(datum.value/16)]",
  "tickSize":3,"labelAlign":"left","labelBaseline":"top","labelPadding":2,"labelOffset":-1.5,"labelFlush":false,"title":null}}},
"layer":[
{"data":{"name":"grid"},"mark":{"type":"rule","color":"white","strokeDash":[3,2]}},
{"data":{"name":"bars"},"mark":{"type":"bar","width":3},
 "encoding":{"y":{"field":"v","type":"quantitative","scale":{"domain":[0,0.1],"nice":false,"padding":0},"title":null,
   "axis":{"orient":"right","values":[0,0.1],"labelExpr":"datum.value == 0 ? '0' : '0.1'","ticks":false,"labelPadding":4,"labelFlush":true,"title":null}},
  "color":{"field":"s","type":"nominal","scale":{"domain":["up","dn"],"range":["#1a3cff","#800000"]},"legend":null}}}
]
}
]
}
